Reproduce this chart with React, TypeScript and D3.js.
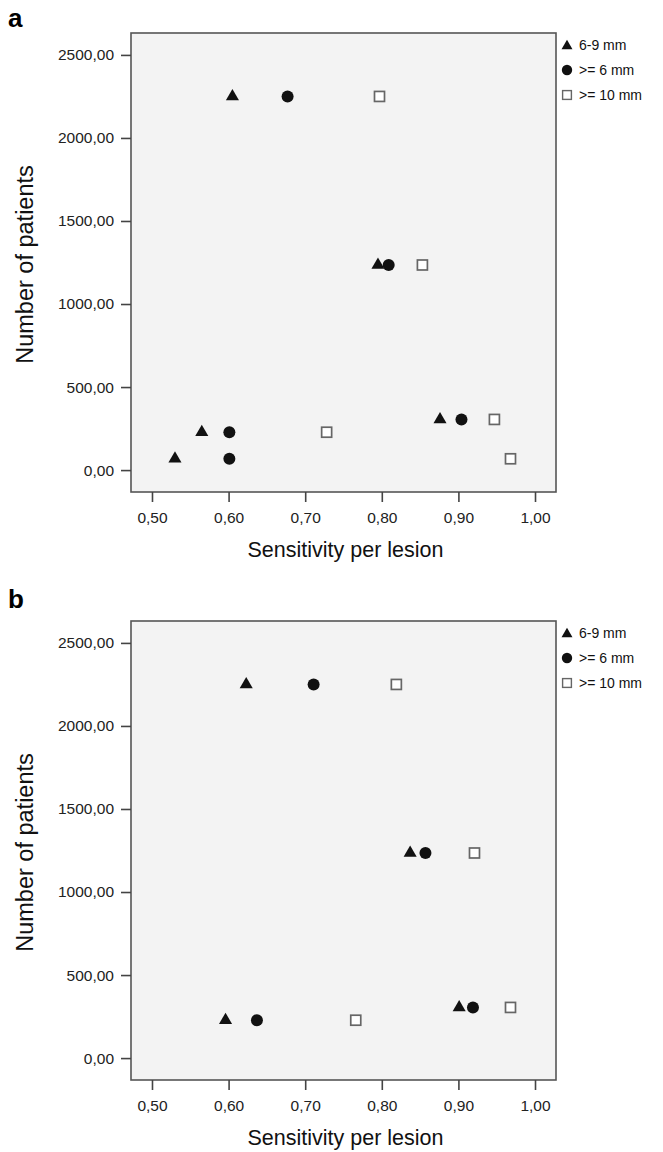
// Two SPSS-style scatter panels: patients vs sensitivity per lesion, by lesion size
import React, { useEffect, useRef } from "react"
import * as d3 from "d3"

const seriesNames = ["6-9 mm", ">= 6 mm", ">= 10 mm"]
const xTicks = [0.5, 0.6, 0.7, 0.8, 0.9, 1.0]
const yTicks = [0, 500, 1000, 1500, 2000, 2500]

// panel a: one entry per study
const patientsA = [2250, 1235, 305, 228, 68]
const small69A = [0.605, 0.795, 0.876, 0.565, 0.53]
const over6A = [0.677, 0.809, 0.904, 0.601, 0.601]
const over10A = [0.797, 0.853, 0.947, 0.728, 0.968]

// panel b
const patientsB = [2250, 1235, 305, 228]
const small69B = [0.623, 0.837, 0.901, 0.596]
const over6B = [0.711, 0.857, 0.919, 0.637]
const over10B = [0.819, 0.921, 0.968, 0.766]

const FONT = "'Liberation Sans', Arial, Helvetica, sans-serif"
const fmt = d3.formatLocale({ decimal: ",", thousands: ".", grouping: [3], currency: ["", ""] }).format(".2f")

function App() {
  const ref = useRef<SVGSVGElement>(null)

  useEffect(() => {
    const svg = d3.select(ref.current)
    svg.selectAll("*").remove()

    const panels = [
      { label: "a", top: 0, labelY: 27, patients: patientsA, series: [small69A, over6A, over10A] },
      { label: "b", top: 588, labelY: 20, patients: patientsB, series: [small69B, over6B, over10B] }
    ]

    const left = 131, right = 556, frameTop = 33, frameBottom = 492

    const x = d3.scaleLinear().domain([0.4726, 1.0274]).range([left, right])
    const y = d3.scaleLinear().domain([-132, 2632]).range([frameBottom, frameTop])

    const tri = d3.symbol().type(d3.symbolTriangle).size(74)
    const legendTri = d3.symbol().type(d3.symbolTriangle).size(52)

    panels.forEach(p => {
      const g = svg.append("g").attr("transform", `translate(0,${p.top})`)

      g.append("text")
        .attr("x", 8).attr("y", p.labelY)
        .attr("font-family", FONT).attr("font-size", 26).attr("font-weight", "bold")
        .text(p.label)

      g.append("rect")
        .attr("x", left).attr("y", frameTop)
        .attr("width", right - left).attr("height", frameBottom - frameTop)
        .attr("fill", "#f3f3f3").attr("stroke", "#555").attr("stroke-width", 1.6)

      const yAxis = g.append("g")
        .attr("transform", `translate(${left},0)`)
        .call(d3.axisLeft(y).tickValues(yTicks).tickSize(10).tickPadding(7).tickFormat(d => fmt(d as number)))
      const xAxis = g.append("g")
        .attr("transform", `translate(0,${frameBottom})`)
        .call(d3.axisBottom(x).tickValues(xTicks).tickSize(10).tickPadding(10).tickFormat(d => fmt(d as number)))

      ;[yAxis, xAxis].forEach(a => {
        a.select(".domain").remove()
        a.selectAll("line").attr("stroke", "#444").attr("stroke-width", 1.6)
        a.selectAll("text").attr("font-family", FONT).attr("font-size", 15.5).attr("fill", "#222")
      })

      g.append("text")
        .attr("x", (left + right) / 2 + 2).attr("y", 557)
        .attr("text-anchor", "middle")
        .attr("font-family", FONT).attr("font-size", 21.5).attr("fill", "#111")
        .text("Sensitivity per lesion")

      g.append("text")
        .attr("transform", `translate(33,${(frameTop + frameBottom) / 2 + 2}) rotate(-90)`)
        .attr("text-anchor", "middle")
        .attr("font-family", FONT).attr("font-size", 23.5).attr("fill", "#111")
        .text("Number of patients")

      // points
      g.selectAll(".tri")
        .data(p.patients)
        .enter().append("path")
        .attr("d", tri)
        .attr("transform", (d, i) => `translate(${x(p.series[0][i])},${y(d)})`)
        .attr("fill", "#111")

      g.selectAll(".dot")
        .data(p.patients)
        .enter().append("circle")
        .attr("cx", (d, i) => x(p.series[1][i]))
        .attr("cy", d => y(d))
        .attr("r", 6)
        .attr("fill", "#111")

      g.selectAll(".sq")
        .data(p.patients)
        .enter().append("rect")
        .attr("x", (d, i) => x(p.series[2][i]) - 5)
        .attr("y", d => y(d) - 5)
        .attr("width", 10).attr("height", 10)
        .attr("fill", "#fff").attr("stroke", "#666").attr("stroke-width", 1.7)

      // legend
      const lg = g.append("g").attr("transform", "translate(567,0)")
      seriesNames.forEach((name, i) => {
        const cy = 45 + i * 25
        if (i === 0) lg.append("path").attr("d", legendTri).attr("transform", `translate(0,${cy + 1})`).attr("fill", "#111")
        if (i === 1) lg.append("circle").attr("cy", cy).attr("r", 5.2).attr("fill", "#111")
        if (i === 2) lg.append("rect").attr("x", -4.4).attr("y", cy - 4.4).attr("width", 8.8).attr("height", 8.8)
          .attr("fill", "#fff").attr("stroke", "#666").attr("stroke-width", 1.4)
        lg.append("text")
          .attr("x", 12).attr("y", cy + 5)
          .attr("font-family", FONT).attr("font-size", 14).attr("fill", "#111")
          .text(name)
      })
    })
  }, [])

  return (
    <div style={{ position: "absolute", left: 0, top: 0 }}>
      <svg ref={ref} width={663} height={1152} style={{ display: "block", background: "#fff" }}></svg>
    </div>
  )
}

export default App
